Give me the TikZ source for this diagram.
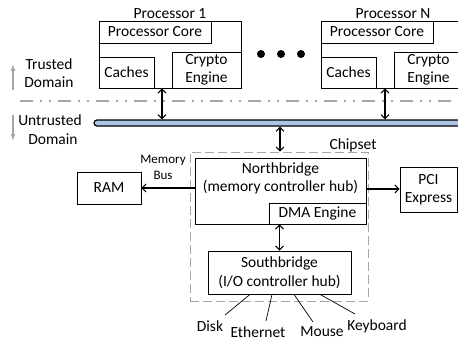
\documentclass[tikz,border=0pt]{standalone}
\usepackage{fontspec}
\setmainfont{Carlito}
\usetikzlibrary{arrows.meta}
\definecolor{busblue}{RGB}{172,197,226}
\definecolor{domgray}{RGB}{166,166,166}
\begin{document}
\begin{tikzpicture}[x=1pt,y=-1pt,
  font=\fontsize{15.5}{18.5}\selectfont,
  box/.style={draw, line width=0.8pt, inner sep=0pt, align=center},
  lbl/.style={inner sep=0pt, align=center},
  tip/.tip={Straight Barb[length=4pt,width=8pt,line width=1pt]},
  dbl/.style={tip-tip, line width=1.1pt},
  sgl/.style={-tip, line width=1.1pt},
  domarrow/.style={-{Latex[length=7pt,width=5pt]}, domgray, line width=1.3pt},
  thin/.style={line width=0.7pt}]
\clip (0,0) rectangle (458,341);
\fill[white] (0,0) rectangle (458,341);

% Processor 1
\node[lbl] (p1lbl) at (170,14) {Processor 1};
\node[box, minimum width=142pt, minimum height=67pt] (p1) at (170,54.5) {};
\node[box, minimum width=112pt, minimum height=22pt] (p1core) at (155,32) {Processor Core};
\node[box, minimum width=55pt, minimum height=31pt] (p1cache) at (126.5,72.5) {Caches};
\node[box, minimum width=69pt, minimum height=36pt] (p1crypto) at (206.5,70) {Crypto\\Engine};

% Processor N
\node[lbl] (pnlbl) at (393,14) {Processor N};
\node[box, minimum width=142pt, minimum height=67pt] (pn) at (392,54.5) {};
\node[box, minimum width=112pt, minimum height=22pt] (pncore) at (377,32) {Processor Core};
\node[box, minimum width=55pt, minimum height=31pt] (pncache) at (348.5,72.5) {Caches};
\node[box, minimum width=69pt, minimum height=36pt] (pncrypto) at (428.5,70) {Crypto\\Engine};

% dots
\fill (261,54) circle (4);
\fill (281,54) circle (4);
\fill (301,54) circle (4);

% domain separator
\draw[domgray, line width=1.4pt, dash pattern=on 13pt off 7pt on 2pt off 7pt on 2pt off 7pt] (20,101) -- (458,101);

% domain labels
\coordinate (tr0) at (13,90);
\coordinate (tr1) at (13,64);
\coordinate (un0) at (13,115);
\coordinate (un1) at (13,141);
\draw[domarrow] (tr0) -- (tr1);
\draw[domarrow] (un0) -- (un1);
\node[lbl] (trusted) at (49,73) {Trusted\\Domain};
\node[lbl] (untrusted) at (50,129.5) {Untrusted\\\hspace*{6pt}Domain};

% bus
\node[draw, fill=busblue, line width=1.2pt, rounded corners=3pt, minimum width=380pt, minimum height=6pt, inner sep=0pt] (bus) at (284,123) {};

% chipset
\node[draw, domgray, dashed, dash pattern=on 9pt off 4pt, line width=0.8pt, minimum width=178pt, minimum height=149pt, inner sep=0pt] (chipset) at (279,226.5) {};
\node[lbl] (chipsetlbl) at (353,145) {Chipset};

\node[box, minimum width=171pt, minimum height=66pt] (nb) at (280.5,191) {};
\node[lbl] (nbtext) at (280.5,178.5) {Northbridge\\(memory controller hub)};
\node[box, minimum width=97pt, minimum height=21pt] (dma) at (317.5,213.5) {DMA Engine};

\node[box, minimum width=64pt, minimum height=32pt] (ram) at (109,188) {RAM};
\node[box, minimum width=57pt, minimum height=45pt] (pci) at (428.5,189.5) {PCI\\Express};
\node[box, minimum width=143pt, minimum height=43pt] (sb) at (279.5,272.5) {Southbridge\\(I/O controller hub)};

\node[lbl, font=\fontsize{13}{16}\selectfont] (membus) at (163,167) {Memory\\Bus};

% peripherals
\node[lbl] (disk) at (210,326) {Disk};
\node[lbl] (eth) at (258,332) {Ethernet};
\node[lbl] (mouse) at (322,332) {Mouse};
\node[lbl] (kbd) at (377,326) {Keyboard};

% connectors
\draw[dbl] (p1.south -| 162,0) -- (bus.north -| 162,0);
\draw[dbl] (pn.south -| 385,0) -- (bus.north -| 385,0);
\draw[dbl] (bus.south -| 280,0) -- (chipset.north -| 280,0);
\draw[sgl] (nb.west |- 0,188) -- (ram.east |- 0,188);
\draw[sgl] (nb.east |- 0,189) -- (pci.west |- 0,189);
\draw[dbl] (sb.north) -- (sb.north |- nb.south);

\coordinate (d1) at (225,315);
\coordinate (e1) at (266,321);
\coordinate (m1) at (313,322);
\coordinate (k1) at (355,314);
\draw[thin] ([xshift=-29.5pt]sb.south) -- (d1);
\draw[thin] ([xshift=-7.5pt]sb.south) -- (e1);
\draw[thin] ([xshift=14.5pt]sb.south) -- (m1);
\draw[thin] ([xshift=40.5pt]sb.south) -- (k1);
\end{tikzpicture}
\end{document}
